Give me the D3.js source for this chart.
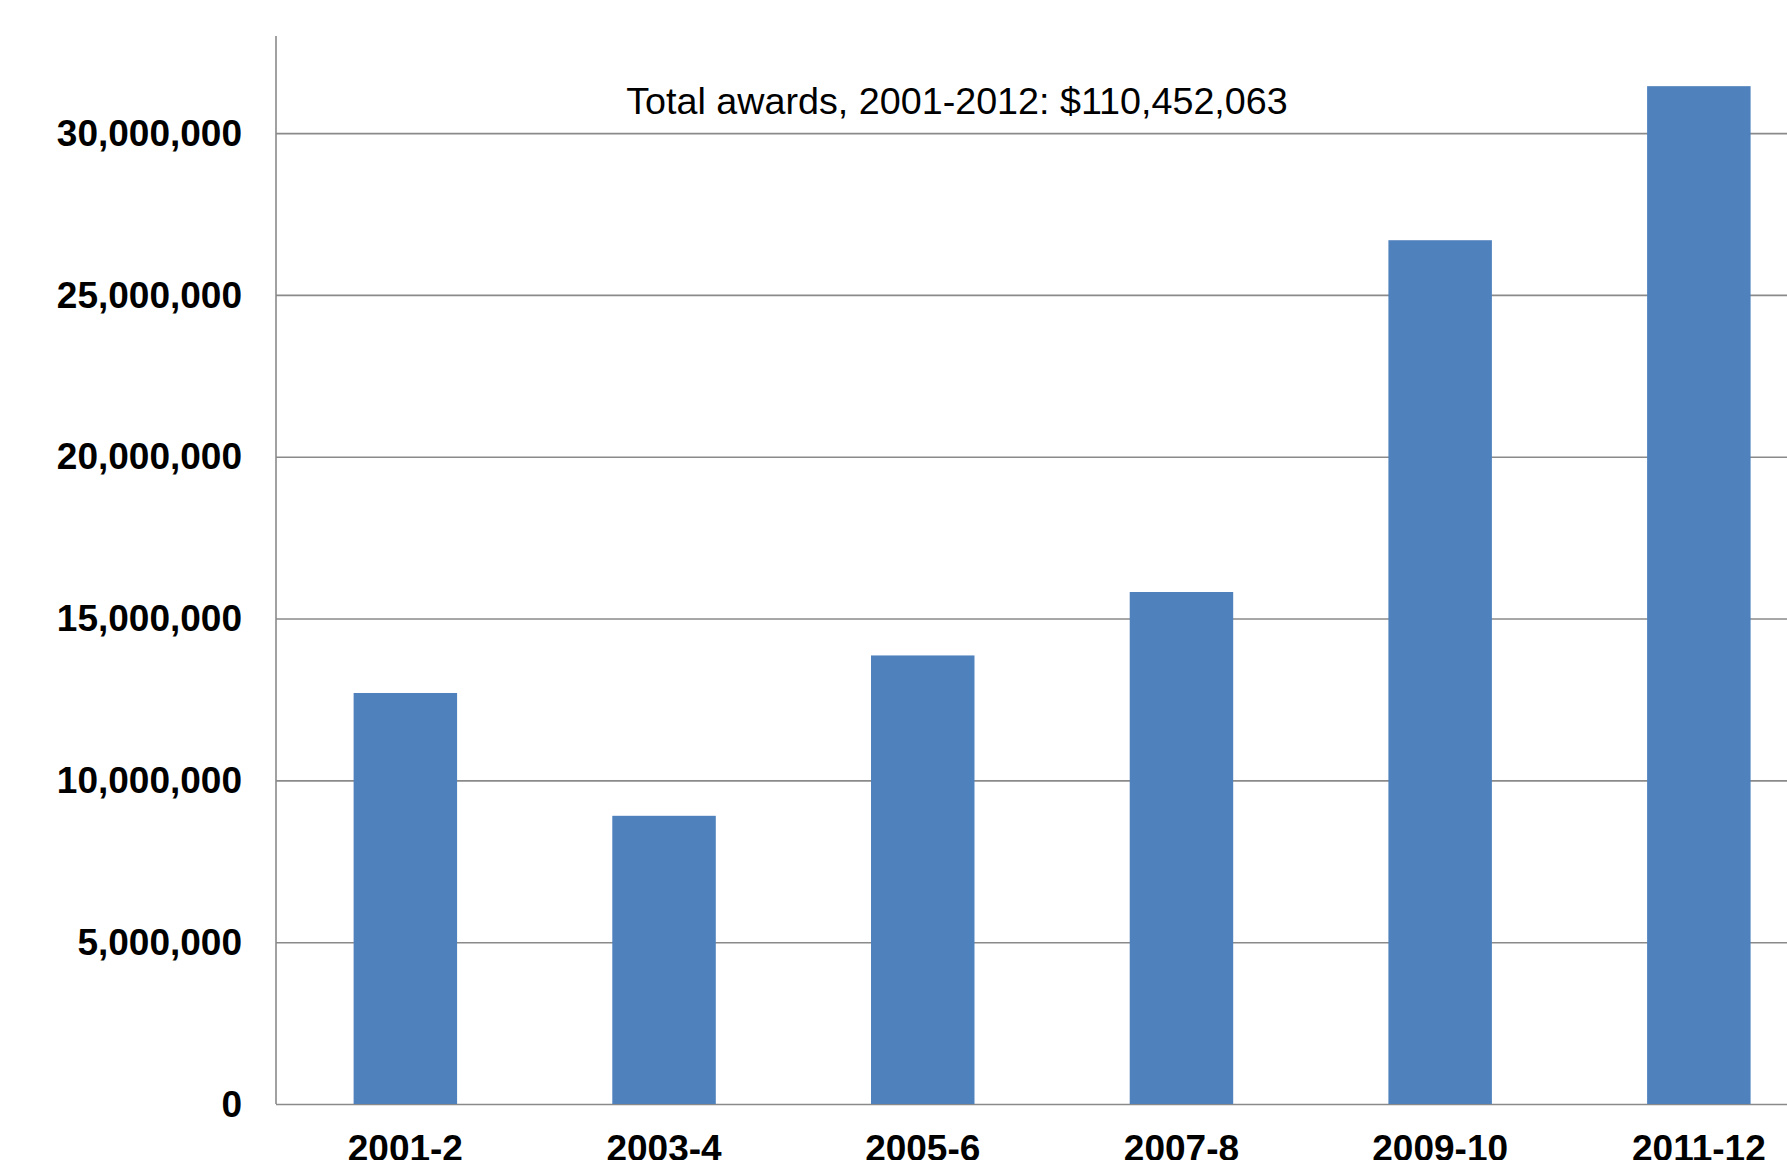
<!DOCTYPE html>
<html>
<head>
<meta charset="utf-8">
<script src="https://cdn.jsdelivr.net/npm/d3@7"></script>
<style>
body { margin: 0; background: #fff; }
svg { display: block; }
.tick text { font-family: "Liberation Sans", Arial, sans-serif; }
</style>
</head>
<body>
<svg width="1787" height="1160"></svg>
<script>
// values
var categories = ["2001-2", "2003-4", "2005-6", "2007-8", "2009-10", "2011-12"];
var awards = [12700000, 8905000, 13860000, 15820000, 26690000, 31450000];
var yTicks = [0, 5000000, 10000000, 15000000, 20000000, 25000000, 30000000];
var totalLabel = "Total awards, 2001-2012: $110,452,063";

var canvas_w = 1787;
var plotLeft = 276, plotTop = 36, plotBottom = 1104;
var step = 258.7;

var data = categories.map(function(c, i) { return {cat: c, value: awards[i]}; });

var ys = d3.scaleLinear().domain([0, 33000000]).range([plotBottom, plotTop]);
var xs = d3.scaleBand()
           .domain(categories)
           .range([plotLeft, plotLeft + 6 * step])
           .paddingInner(0.6)
           .paddingOuter(0.3);

var svg = d3.select("svg");

// gridlines
svg.append("g")
   .attr("class", "grid")
   .attr("transform", "translate(" + plotLeft + ",0)")
   .call(d3.axisLeft(ys)
           .tickValues(yTicks)
           .tickSize(-(canvas_w - plotLeft))
           .tickFormat(""))
   .call(function(g) { g.select(".domain").remove(); })
   .selectAll("line")
   .attr("stroke", "#8a8a8a")
   .attr("stroke-width", 1.6);

// y axis line
svg.append("line")
   .attr("x1", plotLeft).attr("x2", plotLeft)
   .attr("y1", plotTop).attr("y2", plotBottom)
   .attr("stroke", "#8a8a8a")
   .attr("stroke-width", 1.6);

// bars
svg.append("g")
   .selectAll("rect")
   .data(data)
   .enter()
   .append("rect")
   .attr("fill", "#4f81bd")
   .attr("x", function(d) { return xs(d.cat); })
   .attr("width", xs.bandwidth())
   .attr("y", function(d) { return ys(d.value); })
   .attr("height", function(d) { return plotBottom - ys(d.value); });

// Y labels
svg.append("g")
   .attr("transform", "translate(" + plotLeft + ",0)")
   .call(d3.axisLeft(ys)
           .tickValues(yTicks)
           .tickSize(0)
           .tickPadding(34)
           .tickFormat(d3.format(",")))
   .call(function(g) { g.select(".domain").remove(); })
   .selectAll("text")
   .attr("dy", "0.33em")
   .style("font-size", "37px")
   .style("font-weight", "bold")
   .attr("fill", "#000");

// X labels
svg.append("g")
   .attr("transform", "translate(0," + plotBottom + ")")
   .call(d3.axisBottom(xs).tickSize(0).tickPadding(31))
   .call(function(g) { g.select(".domain").remove(); })
   .selectAll("text")
   .style("font-size", "37px")
   .style("font-weight", "bold")
   .attr("fill", "#000");

// total label
svg.append("text")
   .text(totalLabel)
   .attr("x", 957)
   .attr("y", 113.5)
   .attr("text-anchor", "middle")
   .style("font-family", "'Liberation Sans', Arial, sans-serif")
   .style("font-size", "37.7px")
   .attr("fill", "#000");
</script>
</body>
</html>
